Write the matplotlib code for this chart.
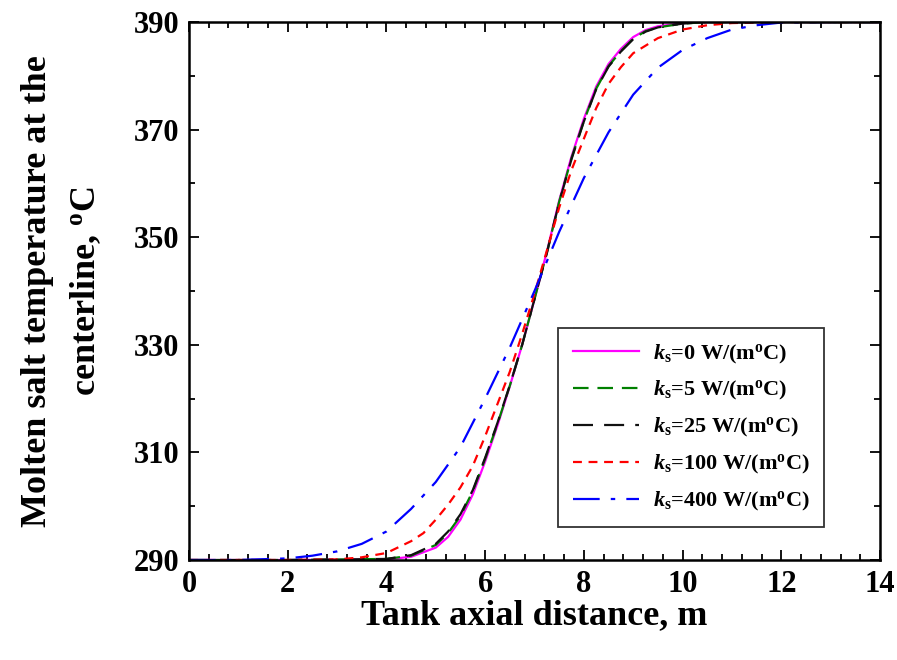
import matplotlib
matplotlib.use("Agg")
import matplotlib.pyplot as plt
from matplotlib.ticker import MultipleLocator, FixedLocator

plt.rcParams['font.family'] = ['Liberation Serif', 'DejaVu Serif']
plt.rcParams['font.weight'] = 'bold'
plt.rcParams['mathtext.fontset'] = 'custom'
plt.rcParams['mathtext.rm'] = 'Liberation Serif:bold'
plt.rcParams['mathtext.it'] = 'Liberation Serif:italic:bold'
plt.rcParams['mathtext.bf'] = 'Liberation Serif:bold'

# ---- data ----
x_k0 = [0, 2, 4.0, 4.5, 5.0, 5.25, 5.5, 5.75, 6.0, 6.25, 6.5, 6.75, 7.0, 7.25, 7.5, 7.75, 8.0, 8.25, 8.5, 8.75, 9.0, 9.25, 9.5, 10.0, 10.5, 12, 14]
t_k0 = [290, 290, 290.1, 290.6, 292.3, 294.3, 297.5, 302.2, 308.3, 315.0, 322.3, 330.0, 338.5, 347.3, 356.8, 365.0, 372.0, 378.0, 382.2, 385.0, 387.2, 388.5, 389.2, 389.8, 390, 390, 390]

x_k5 = [0, 2, 4.0, 4.5, 5.0, 5.25, 5.5, 5.75, 6.0, 6.25, 6.5, 6.75, 7.0, 7.25, 7.5, 7.75, 8.0, 8.25, 8.5, 8.75, 9.0, 9.25, 9.5, 10.0, 10.5, 12, 14]
t_k5 = [290, 290, 290.2, 290.8, 292.8, 295.0, 298.2, 302.8, 308.8, 315.3, 322.4, 330.0, 338.5, 347.1, 356.6, 364.7, 371.6, 377.6, 381.8, 384.6, 386.9, 388.3, 389.0, 389.7, 390, 390, 390]

x_k25 = [0, 2, 4.0, 4.5, 5.0, 5.25, 5.5, 5.75, 6.0, 6.25, 6.5, 6.75, 7.0, 7.25, 7.5, 7.75, 8.0, 8.25, 8.5, 8.75, 9.0, 9.25, 9.5, 10.0, 10.5, 12, 14]
t_k25 = [290, 290, 290.2, 290.9, 293.0, 295.3, 298.5, 303.0, 309.0, 315.5, 322.5, 330.0, 338.5, 347.0, 356.5, 364.5, 371.5, 377.5, 381.7, 384.5, 386.8, 388.2, 389.0, 389.7, 390, 390, 390]

x_k100 = [0, 2, 3.0, 3.5, 4.0, 4.5, 4.75, 5.0, 5.25, 5.5, 5.75, 6.0, 6.25, 6.5, 6.75, 7.0, 7.25, 7.5, 7.75, 8.0, 8.25, 8.5, 8.75, 9.0, 9.5, 10.0, 10.5, 11.0, 12, 14]
t_k100 = [290, 290, 290.1, 290.5, 291.3, 293.5, 295.0, 297.5, 300.3, 303.5, 307.5, 313.0, 319.0, 325.0, 332.0, 339.5, 347.5, 355.5, 362.5, 368.3, 374.0, 378.5, 381.6, 384.2, 387.0, 388.6, 389.4, 389.8, 390, 390]

x_k400 = [0, 1.0, 2.0, 2.5, 3.0, 3.5, 4.0, 4.5, 5.0, 5.5, 6.0, 6.5, 7.0, 7.5, 8.0, 8.5, 9.0, 9.5, 10.0, 10.5, 11.0, 11.5, 12.0, 13.0, 14.0]
t_k400 = [290, 290, 290.3, 290.8, 291.6, 293.0, 295.3, 299.5, 304.5, 311.0, 320.0, 329.5, 340.0, 351.0, 361.0, 369.5, 376.5, 381.5, 384.8, 387.0, 388.6, 389.4, 389.9, 390, 390]

y_ticks = [290, 310, 330, 350, 370, 390]
x_ticks = [0, 2, 4, 6, 8, 10, 12, 14]

labels = ["$k_{\\mathrm{s}}$=0 W/(m$^{\\mathrm{o}}$C)",
          "$k_{\\mathrm{s}}$=5 W/(m$^{\\mathrm{o}}$C)",
          "$k_{\\mathrm{s}}$=25 W/(m$^{\\mathrm{o}}$C)",
          "$k_{\\mathrm{s}}$=100 W/(m$^{\\mathrm{o}}$C)",
          "$k_{\\mathrm{s}}$=400 W/(m$^{\\mathrm{o}}$C)"]

fig = plt.figure(figsize=(8.97, 6.60), dpi=100)
ax = fig.add_axes([189/897, 1-560/660, (880-189)/897, (560-22)/660])

lw = 1.6
ax.plot(x_k0, t_k0, color='#ff00ff', lw=lw, ls='-', label=labels[0])
ax.plot(x_k5, t_k5, color='#008000', lw=lw, ls=(0, (7, 4)), label=labels[1])
ax.plot(x_k25, t_k25, color='#111111', lw=lw, ls=(0, (9, 5)), label=labels[2])
ax.plot(x_k100, t_k100, color='#ff0000', lw=lw, ls=(0, (4, 3)), label=labels[3])
ax.plot(x_k400, t_k400, color='#0000ff', lw=lw, ls=(0, (12, 5, 2, 5)), label=labels[4])

ax.set_xlim(0, 14)
ax.set_ylim(290, 390)
ax.set_xticks(x_ticks)
ax.set_yticks(y_ticks)
ax.xaxis.set_minor_locator(MultipleLocator(0.4))
ax.yaxis.set_minor_locator(FixedLocator([300, 320, 340, 360, 380]))
ax.tick_params(which='both', direction='in', top=True, right=True, width=1.3)
ax.tick_params(which='major', length=7, labelsize=22, pad=7)
ax.tick_params(which='minor', length=4)
for s in ax.spines.values():
    s.set_linewidth(1.8)

ax.set_xlabel("Tank axial distance, m", fontsize=26, fontweight='bold', labelpad=0)
ax.set_ylabel("Molten salt temperature at the\ncenterline, $^{\\mathrm{o}}$C", fontsize=26,
              fontweight='bold', linespacing=1.55)
ax.yaxis.set_label_coords(-0.124, 0.5)

leg = ax.legend(loc='lower right', bbox_to_anchor=(0.935, 0.04), fontsize=16,
                frameon=True, fancybox=False, edgecolor='black', handlelength=3.0,
                labelspacing=0.62, borderpad=0.65, handletextpad=0.6)
leg.get_frame().set_linewidth(1.3)

fig.savefig("out.png", dpi=100)
